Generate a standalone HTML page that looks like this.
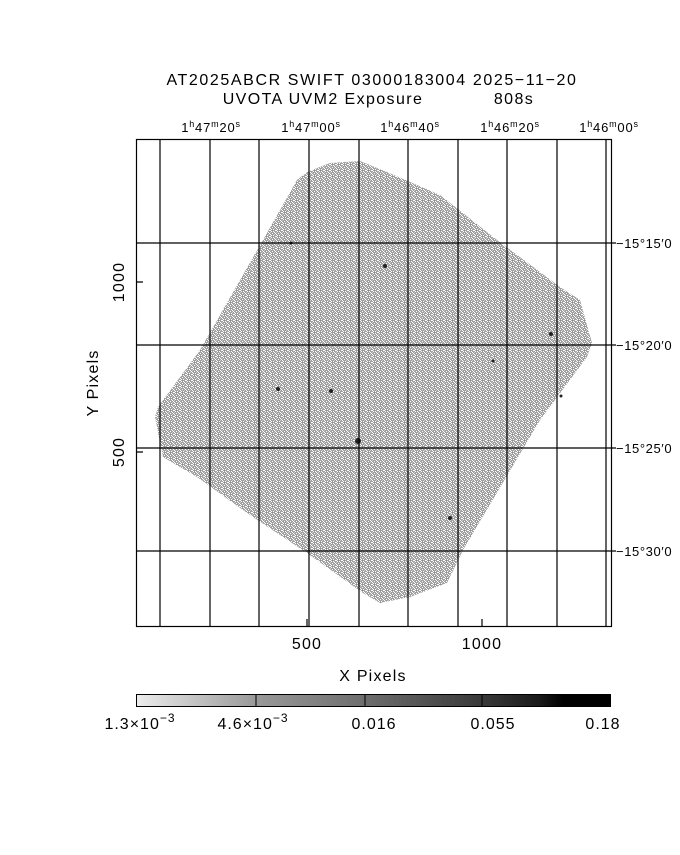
<!DOCTYPE html>
<html><head><meta charset="utf-8"><style>
body{margin:0;background:#fff;}
svg text{font-family:"Liberation Sans",sans-serif;fill:#000;}
</style></head><body>
<svg width="680" height="850" viewBox="0 0 680 850" xmlns="http://www.w3.org/2000/svg">
<defs>
<pattern id="nz" width="6" height="6" patternUnits="userSpaceOnUse">
<rect width="6" height="6" fill="#a0a0a0"/>
<rect x="0" y="0" width="1" height="1" fill="#fff"/><rect x="3" y="1" width="1" height="1" fill="#fff"/>
<rect x="1" y="3" width="1" height="1" fill="#fff"/><rect x="4" y="4" width="1" height="1" fill="#fff"/>
<rect x="5" y="2" width="1" height="1" fill="#fff"/><rect x="2" y="5" width="1" height="1" fill="#fff"/>
<rect x="1" y="1" width="1" height="1" fill="#fff"/><rect x="5" y="5" width="1" height="1" fill="#fff"/>
<rect x="3" y="3" width="1" height="1" fill="#fff"/><rect x="0" y="2" width="1" height="1" fill="#fff"/>
<rect x="4" y="0" width="1" height="1" fill="#c8c8c8"/><rect x="0" y="4" width="1" height="1" fill="#c8c8c8"/>
<rect x="2" y="2" width="1" height="1" fill="#8c8c8c"/>
</pattern>
<linearGradient id="cb" x1="0" x2="1" y1="0" y2="0">
<stop offset="0" stop-color="#ececec"/><stop offset="0.25" stop-color="#9a9a9a"/>
<stop offset="0.5" stop-color="#6a6a6a"/><stop offset="0.75" stop-color="#343434"/>
<stop offset="0.85" stop-color="#1a1a1a"/><stop offset="0.9" stop-color="#000"/><stop offset="1" stop-color="#000"/>
</linearGradient>
</defs>
<text x="372" y="85" font-size="16" letter-spacing="1.6" text-anchor="middle">AT2025ABCR SWIFT 03000183004 2025−11−20</text>
<text x="323" y="104" font-size="16" letter-spacing="1.4" text-anchor="middle">UVOTA UVM2 Exposure</text>
<text x="514" y="104" font-size="16" letter-spacing="1.4" text-anchor="middle">808s</text>
<g font-size="13" text-anchor="middle" letter-spacing="0.8">
<text x="211" y="132">1<tspan dy="-5" font-size="9">h</tspan><tspan dy="5">47</tspan><tspan dy="-5" font-size="9">m</tspan><tspan dy="5">20</tspan><tspan dy="-5" font-size="9">s</tspan></text>
<text x="311" y="132">1<tspan dy="-5" font-size="9">h</tspan><tspan dy="5">47</tspan><tspan dy="-5" font-size="9">m</tspan><tspan dy="5">00</tspan><tspan dy="-5" font-size="9">s</tspan></text>
<text x="410" y="132">1<tspan dy="-5" font-size="9">h</tspan><tspan dy="5">46</tspan><tspan dy="-5" font-size="9">m</tspan><tspan dy="5">40</tspan><tspan dy="-5" font-size="9">s</tspan></text>
<text x="510" y="132">1<tspan dy="-5" font-size="9">h</tspan><tspan dy="5">46</tspan><tspan dy="-5" font-size="9">m</tspan><tspan dy="5">20</tspan><tspan dy="-5" font-size="9">s</tspan></text>
<text x="609" y="132">1<tspan dy="-5" font-size="9">h</tspan><tspan dy="5">46</tspan><tspan dy="-5" font-size="9">m</tspan><tspan dy="5">00</tspan><tspan dy="-5" font-size="9">s</tspan></text>
</g>
<polygon fill="url(#nz)" points="307,172 330,163 360,161 387,172 440,195 497,240 560,287 580,300 592,343 587,357 540,420 463,550 447,583 410,597 380,603 363,593 307,553 250,515 197,477 163,457 155,417 158,407 200,350 263,240 297,180"/>
<g fill="#222">
<circle cx="385" cy="266" r="2"/><circle cx="331" cy="391" r="2"/><circle cx="358" cy="441" r="3"/>
<circle cx="551" cy="334" r="2"/><circle cx="561" cy="396" r="1.5"/><circle cx="493" cy="361" r="1.5"/>
<circle cx="278" cy="389" r="2"/><circle cx="450" cy="518" r="2"/><circle cx="291" cy="243" r="1.5"/>
</g>
<g stroke="#000" stroke-width="1.2" fill="none">
<rect x="136.5" y="139.5" width="475" height="487"/>
<path d="M160 139V626M210 139V626M259 139V626M309 139V626M359 139V626M408 139V626M458 139V626M507 139V626M557 139V626M606 139V626"/>
<path d="M136 243H611M136 345H611M136 448H611M136 551H611"/>
<path d="M611 243H616M611 345H616M611 448H616M611 551H616"/>
<path d="M136 282H143M136 452H143M307 626V619M482 626V619"/>
</g>
<g font-size="13" letter-spacing="0.6">
<text x="616" y="248">−15°15′0</text>
<text x="616" y="350">−15°20′0</text>
<text x="616" y="453">−15°25′0</text>
<text x="616" y="556">−15°30′0</text>
</g>
<g font-size="16" text-anchor="middle" letter-spacing="1.2">
<text x="307" y="649">500</text>
<text x="482" y="649">1000</text>
<text x="373" y="681">X Pixels</text>
<text transform="translate(124,282) rotate(-90)">1000</text>
<text transform="translate(124,452) rotate(-90)">500</text>
<text transform="translate(98,383) rotate(-90)">Y Pixels</text>
</g>
<rect x="136.5" y="694.5" width="474" height="12" fill="url(#cb)" stroke="#000"/>
<path d="M256 694V707M365 694V707M482 694V707" stroke="#000"/>
<g font-size="16" text-anchor="middle" letter-spacing="1">
<text x="140" y="729">1.3×10<tspan dy="-7" font-size="12">−3</tspan></text>
<text x="253" y="729">4.6×10<tspan dy="-7" font-size="12">−3</tspan></text>
<text x="374" y="729">0.016</text>
<text x="493" y="729">0.055</text>
<text x="603" y="729">0.18</text>
</g>
</svg>
</body></html>
